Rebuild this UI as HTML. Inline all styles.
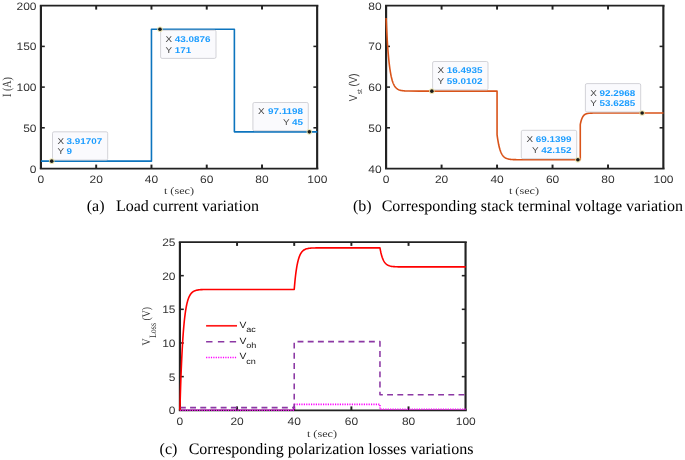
<!DOCTYPE html>
<html><head><meta charset="utf-8"><title>Figure</title>
<style>html,body{margin:0;padding:0;background:#fff;}svg{display:block;filter:blur(0.3px);}text{text-rendering:geometricPrecision;}</style></head>
<body>
<svg width="685" height="460" viewBox="0 0 685 460">
<rect width="685" height="460" fill="#fff"/>
<rect x="40.9" y="5.7" width="276.40000000000003" height="162.8" fill="#fff"/>
<line x1="39.82" y1="5.7" x2="318.38" y2="5.7" stroke="#222222" stroke-width="1.75"/>
<line x1="39.82" y1="168.5" x2="318.38" y2="168.5" stroke="#222222" stroke-width="1.75"/>
<line x1="40.9" y1="5.7" x2="40.9" y2="168.5" stroke="#222222" stroke-width="2.15"/>
<line x1="317.15000000000003" y1="5.7" x2="317.15000000000003" y2="168.5" stroke="#222222" stroke-width="2.15"/>
<text transform="translate(40.90,182.90) scale(1.11,1)" font-family='"Liberation Sans", sans-serif' font-size="10.8" text-anchor="middle" fill="#333333" font-weight="normal" >0</text>
<line x1="96.18" y1="168.5" x2="96.18" y2="164.6" stroke="#222222" stroke-width="1.95"/>
<line x1="96.18" y1="5.7" x2="96.18" y2="9.6" stroke="#222222" stroke-width="1.95"/>
<text transform="translate(96.18,182.90) scale(1.11,1)" font-family='"Liberation Sans", sans-serif' font-size="10.8" text-anchor="middle" fill="#333333" font-weight="normal" >20</text>
<line x1="151.46" y1="168.5" x2="151.46" y2="164.6" stroke="#222222" stroke-width="1.95"/>
<line x1="151.46" y1="5.7" x2="151.46" y2="9.6" stroke="#222222" stroke-width="1.95"/>
<text transform="translate(151.46,182.90) scale(1.11,1)" font-family='"Liberation Sans", sans-serif' font-size="10.8" text-anchor="middle" fill="#333333" font-weight="normal" >40</text>
<line x1="206.74" y1="168.5" x2="206.74" y2="164.6" stroke="#222222" stroke-width="1.95"/>
<line x1="206.74" y1="5.7" x2="206.74" y2="9.6" stroke="#222222" stroke-width="1.95"/>
<text transform="translate(206.74,182.90) scale(1.11,1)" font-family='"Liberation Sans", sans-serif' font-size="10.8" text-anchor="middle" fill="#333333" font-weight="normal" >60</text>
<line x1="262.02" y1="168.5" x2="262.02" y2="164.6" stroke="#222222" stroke-width="1.95"/>
<line x1="262.02" y1="5.7" x2="262.02" y2="9.6" stroke="#222222" stroke-width="1.95"/>
<text transform="translate(262.02,182.90) scale(1.11,1)" font-family='"Liberation Sans", sans-serif' font-size="10.8" text-anchor="middle" fill="#333333" font-weight="normal" >80</text>
<text transform="translate(317.30,182.90) scale(1.11,1)" font-family='"Liberation Sans", sans-serif' font-size="10.8" text-anchor="middle" fill="#333333" font-weight="normal" >100</text>
<text transform="translate(36.50,172.50) scale(1.11,1)" font-family='"Liberation Sans", sans-serif' font-size="10.8" text-anchor="end" fill="#333333" font-weight="normal" >0</text>
<line x1="40.9" y1="127.80" x2="44.8" y2="127.80" stroke="#222222" stroke-width="1.55"/>
<line x1="317.3" y1="127.80" x2="313.40000000000003" y2="127.80" stroke="#222222" stroke-width="1.55"/>
<text transform="translate(36.50,131.80) scale(1.11,1)" font-family='"Liberation Sans", sans-serif' font-size="10.8" text-anchor="end" fill="#333333" font-weight="normal" >50</text>
<line x1="40.9" y1="87.10" x2="44.8" y2="87.10" stroke="#222222" stroke-width="1.55"/>
<line x1="317.3" y1="87.10" x2="313.40000000000003" y2="87.10" stroke="#222222" stroke-width="1.55"/>
<text transform="translate(36.50,91.10) scale(1.11,1)" font-family='"Liberation Sans", sans-serif' font-size="10.8" text-anchor="end" fill="#333333" font-weight="normal" >100</text>
<line x1="40.9" y1="46.40" x2="44.8" y2="46.40" stroke="#222222" stroke-width="1.55"/>
<line x1="317.3" y1="46.40" x2="313.40000000000003" y2="46.40" stroke="#222222" stroke-width="1.55"/>
<text transform="translate(36.50,50.40) scale(1.11,1)" font-family='"Liberation Sans", sans-serif' font-size="10.8" text-anchor="end" fill="#333333" font-weight="normal" >150</text>
<text transform="translate(36.50,9.70) scale(1.11,1)" font-family='"Liberation Sans", sans-serif' font-size="10.8" text-anchor="end" fill="#333333" font-weight="normal" >200</text>
<polyline points="40.90,161.17 151.46,161.17 151.46,29.31 234.38,29.31 234.38,131.87 317.30,131.87" fill="none" stroke="#0c74be" stroke-width="1.6" stroke-linejoin="round" />
<rect x="52.5" y="131.8" width="55.2" height="28.3" rx="1.5" fill="#fafafd" stroke="#c8c8ce" stroke-width="0.8"/>
<text transform="translate(57.40,143.75) scale(1.18,1)" font-family='"Liberation Sans", sans-serif' font-size="8.4" text-anchor="start" fill="#404040" font-weight="normal" >X</text>
<text transform="translate(66.60,143.75) scale(1.18,1)" font-family='"Liberation Sans", sans-serif' font-size="8.4" text-anchor="start" fill="#1a9cff" font-weight="bold" >3.91707</text>
<text transform="translate(57.40,154.30) scale(1.18,1)" font-family='"Liberation Sans", sans-serif' font-size="8.4" text-anchor="start" fill="#404040" font-weight="normal" >Y</text>
<text transform="translate(66.60,154.30) scale(1.18,1)" font-family='"Liberation Sans", sans-serif' font-size="8.4" text-anchor="start" fill="#1a9cff" font-weight="bold" >9</text>
<circle cx="51.73" cy="161.17" r="2.8" fill="#e8e0a0" opacity="0.8"/>
<circle cx="51.73" cy="161.17" r="1.8" fill="#1a1a1a"/>
<rect x="160.6" y="30.2" width="55.4" height="28.2" rx="1.5" fill="#fafafd" stroke="#c8c8ce" stroke-width="0.8"/>
<text transform="translate(165.50,42.15) scale(1.18,1)" font-family='"Liberation Sans", sans-serif' font-size="8.4" text-anchor="start" fill="#404040" font-weight="normal" >X</text>
<text transform="translate(174.70,42.15) scale(1.18,1)" font-family='"Liberation Sans", sans-serif' font-size="8.4" text-anchor="start" fill="#1a9cff" font-weight="bold" >43.0876</text>
<text transform="translate(165.50,52.70) scale(1.18,1)" font-family='"Liberation Sans", sans-serif' font-size="8.4" text-anchor="start" fill="#404040" font-weight="normal" >Y</text>
<text transform="translate(174.70,52.70) scale(1.18,1)" font-family='"Liberation Sans", sans-serif' font-size="8.4" text-anchor="start" fill="#1a9cff" font-weight="bold" >171</text>
<circle cx="159.99" cy="29.31" r="2.8" fill="#e8e0a0" opacity="0.8"/>
<circle cx="159.99" cy="29.31" r="1.8" fill="#1a1a1a"/>
<rect x="252.9" y="102.5" width="55.4" height="28.3" rx="1.5" fill="#fafafd" stroke="#c8c8ce" stroke-width="0.8"/>
<text transform="translate(303.10,114.45) scale(1.18,1)" font-family='"Liberation Sans", sans-serif' font-size="8.4" text-anchor="end" fill="#1a9cff" font-weight="bold" >97.1198</text>
<text transform="translate(258.08,114.45) scale(1.18,1)" font-family='"Liberation Sans", sans-serif' font-size="8.4" text-anchor="start" fill="#404040" font-weight="normal" >X</text>
<text transform="translate(303.10,125.00) scale(1.18,1)" font-family='"Liberation Sans", sans-serif' font-size="8.4" text-anchor="end" fill="#1a9cff" font-weight="bold" >45</text>
<text transform="translate(282.88,125.00) scale(1.18,1)" font-family='"Liberation Sans", sans-serif' font-size="8.4" text-anchor="start" fill="#404040" font-weight="normal" >Y</text>
<circle cx="309.34" cy="131.87" r="2.8" fill="#e8e0a0" opacity="0.8"/>
<circle cx="309.34" cy="131.87" r="1.8" fill="#1a1a1a"/>
<text transform="translate(179.00,194.20) scale(1.22,1)" font-family='"Liberation Serif", serif' font-size="10" text-anchor="middle" fill="#333333" font-weight="normal" >t (sec)</text>
<text transform="translate(10.9,96.9) rotate(-90) scale(1,1.25)" font-family='"Liberation Serif", serif' font-size="10" text-anchor="start" fill="#404040">I (A)</text>
<text transform="translate(86.70,210.90)" font-family='"Liberation Serif", serif' font-size="16" text-anchor="start" fill="#000" font-weight="normal" >(a)</text>
<text transform="translate(115.90,210.90)" font-family='"Liberation Serif", serif' font-size="16" text-anchor="start" fill="#000" font-weight="normal" >Load current variation</text>
<rect x="386.1" y="5.7" width="277.4" height="162.8" fill="#fff"/>
<line x1="385.03" y1="5.7" x2="664.58" y2="5.7" stroke="#222222" stroke-width="1.75"/>
<line x1="385.03" y1="168.5" x2="664.58" y2="168.5" stroke="#222222" stroke-width="1.75"/>
<line x1="386.1" y1="5.7" x2="386.1" y2="168.5" stroke="#222222" stroke-width="2.15"/>
<line x1="663.35" y1="5.7" x2="663.35" y2="168.5" stroke="#222222" stroke-width="2.15"/>
<text transform="translate(386.10,182.90) scale(1.11,1)" font-family='"Liberation Sans", sans-serif' font-size="10.8" text-anchor="middle" fill="#333333" font-weight="normal" >0</text>
<line x1="441.58" y1="168.5" x2="441.58" y2="164.6" stroke="#222222" stroke-width="1.95"/>
<line x1="441.58" y1="5.7" x2="441.58" y2="9.6" stroke="#222222" stroke-width="1.95"/>
<text transform="translate(441.58,182.90) scale(1.11,1)" font-family='"Liberation Sans", sans-serif' font-size="10.8" text-anchor="middle" fill="#333333" font-weight="normal" >20</text>
<line x1="497.06" y1="168.5" x2="497.06" y2="164.6" stroke="#222222" stroke-width="1.95"/>
<line x1="497.06" y1="5.7" x2="497.06" y2="9.6" stroke="#222222" stroke-width="1.95"/>
<text transform="translate(497.06,182.90) scale(1.11,1)" font-family='"Liberation Sans", sans-serif' font-size="10.8" text-anchor="middle" fill="#333333" font-weight="normal" >40</text>
<line x1="552.54" y1="168.5" x2="552.54" y2="164.6" stroke="#222222" stroke-width="1.95"/>
<line x1="552.54" y1="5.7" x2="552.54" y2="9.6" stroke="#222222" stroke-width="1.95"/>
<text transform="translate(552.54,182.90) scale(1.11,1)" font-family='"Liberation Sans", sans-serif' font-size="10.8" text-anchor="middle" fill="#333333" font-weight="normal" >60</text>
<line x1="608.02" y1="168.5" x2="608.02" y2="164.6" stroke="#222222" stroke-width="1.95"/>
<line x1="608.02" y1="5.7" x2="608.02" y2="9.6" stroke="#222222" stroke-width="1.95"/>
<text transform="translate(608.02,182.90) scale(1.11,1)" font-family='"Liberation Sans", sans-serif' font-size="10.8" text-anchor="middle" fill="#333333" font-weight="normal" >80</text>
<text transform="translate(663.50,182.90) scale(1.11,1)" font-family='"Liberation Sans", sans-serif' font-size="10.8" text-anchor="middle" fill="#333333" font-weight="normal" >100</text>
<text transform="translate(381.70,172.50) scale(1.11,1)" font-family='"Liberation Sans", sans-serif' font-size="10.8" text-anchor="end" fill="#333333" font-weight="normal" >40</text>
<line x1="386.1" y1="127.80" x2="390.0" y2="127.80" stroke="#222222" stroke-width="1.55"/>
<line x1="663.5" y1="127.80" x2="659.6" y2="127.80" stroke="#222222" stroke-width="1.55"/>
<text transform="translate(381.70,131.80) scale(1.11,1)" font-family='"Liberation Sans", sans-serif' font-size="10.8" text-anchor="end" fill="#333333" font-weight="normal" >50</text>
<line x1="386.1" y1="87.10" x2="390.0" y2="87.10" stroke="#222222" stroke-width="1.55"/>
<line x1="663.5" y1="87.10" x2="659.6" y2="87.10" stroke="#222222" stroke-width="1.55"/>
<text transform="translate(381.70,91.10) scale(1.11,1)" font-family='"Liberation Sans", sans-serif' font-size="10.8" text-anchor="end" fill="#333333" font-weight="normal" >60</text>
<line x1="386.1" y1="46.40" x2="390.0" y2="46.40" stroke="#222222" stroke-width="1.55"/>
<line x1="663.5" y1="46.40" x2="659.6" y2="46.40" stroke="#222222" stroke-width="1.55"/>
<text transform="translate(381.70,50.40) scale(1.11,1)" font-family='"Liberation Sans", sans-serif' font-size="10.8" text-anchor="end" fill="#333333" font-weight="normal" >70</text>
<text transform="translate(381.70,9.70) scale(1.11,1)" font-family='"Liberation Sans", sans-serif' font-size="10.8" text-anchor="end" fill="#333333" font-weight="normal" >80</text>
<polyline points="386.10,18.07 386.32,22.98 386.54,27.56 386.77,31.83 386.99,35.82 387.21,39.53 387.43,43.00 387.65,46.24 387.88,49.25 388.10,52.07 388.32,54.69 388.54,57.14 388.76,59.42 388.98,61.55 389.21,63.54 389.43,65.40 389.65,67.13 389.87,68.74 390.09,70.24 390.32,71.65 390.54,72.96 390.76,74.18 390.98,75.32 391.20,76.38 391.43,77.37 391.65,78.29 391.87,79.16 392.09,79.96 392.31,80.71 392.54,81.41 392.76,82.06 392.98,82.67 393.20,83.24 393.42,83.77 393.65,84.27 393.87,84.73 394.09,85.16 394.31,85.56 394.53,85.93 395.23,86.95 395.92,87.77 396.61,88.42 397.31,88.95 398.00,89.38 398.69,89.72 399.39,89.99 400.08,90.22 400.77,90.39 401.47,90.54 402.16,90.65 402.85,90.75 403.55,90.82 404.24,90.88 404.94,90.93 405.63,90.97 406.32,91.00 407.02,91.02 407.71,91.04 408.40,91.06 419.50,91.13 430.59,91.13 441.69,91.13 452.79,91.13 463.88,91.13 474.98,91.13 486.07,91.13 497.06,91.13 497.06,134.59 497.28,136.28 497.50,137.86 497.73,139.33 497.95,140.70 498.17,141.98 498.39,143.17 498.61,144.29 498.84,145.32 499.06,146.29 499.28,147.20 499.50,148.04 499.72,148.83 499.94,149.56 500.17,150.24 500.39,150.88 500.61,151.48 500.83,152.03 501.05,152.55 501.28,153.03 501.50,153.48 501.72,153.91 501.94,154.30 502.16,154.66 502.39,155.00 502.61,155.32 502.83,155.62 503.05,155.90 503.27,156.16 503.50,156.40 503.72,156.62 503.94,156.83 504.16,157.03 504.38,157.21 504.61,157.38 504.83,157.54 505.05,157.69 505.27,157.82 505.49,157.95 506.19,158.30 506.88,158.58 507.57,158.81 508.27,158.99 508.96,159.14 509.65,159.26 510.35,159.35 511.04,159.43 511.73,159.49 512.43,159.54 513.12,159.58 513.81,159.61 514.51,159.64 515.20,159.66 515.90,159.67 516.59,159.69 517.28,159.70 517.98,159.71 518.67,159.71 519.36,159.72 530.46,159.74 541.55,159.74 552.65,159.74 563.75,159.74 574.84,159.74 580.28,159.74 580.28,124.55 580.50,123.45 580.72,122.46 580.95,121.56 581.17,120.75 581.39,120.02 581.61,119.35 581.83,118.75 582.06,118.21 582.28,117.71 582.50,117.27 582.72,116.87 582.94,116.50 583.16,116.17 583.39,115.87 583.61,115.60 583.83,115.36 584.05,115.14 584.27,114.94 584.50,114.75 584.72,114.59 584.94,114.44 585.16,114.31 585.38,114.19 585.61,114.08 585.83,113.98 586.05,113.89 586.27,113.81 586.49,113.73 586.72,113.67 586.94,113.61 587.16,113.55 587.38,113.50 587.60,113.46 587.83,113.42 588.05,113.38 588.27,113.35 588.49,113.32 588.71,113.29 589.41,113.22 590.10,113.17 590.79,113.13 591.49,113.11 592.18,113.09 592.87,113.07 593.57,113.06 594.26,113.05 594.95,113.05 595.65,113.04 596.34,113.04 597.03,113.04 597.73,113.04 598.42,113.04 599.12,113.03 599.81,113.03 600.50,113.03 601.20,113.03 601.89,113.03 602.58,113.03 613.68,113.03 624.77,113.03 635.87,113.03 646.97,113.03 658.06,113.03 663.50,113.03 663.50,113.03" fill="none" stroke="#d95319" stroke-width="1.6" stroke-linejoin="round" />
<rect x="432.6" y="61.5" width="55.4" height="28.4" rx="1.5" fill="#fafafd" stroke="#c8c8ce" stroke-width="0.8"/>
<text transform="translate(437.50,73.45) scale(1.18,1)" font-family='"Liberation Sans", sans-serif' font-size="8.4" text-anchor="start" fill="#404040" font-weight="normal" >X</text>
<text transform="translate(446.70,73.45) scale(1.18,1)" font-family='"Liberation Sans", sans-serif' font-size="8.4" text-anchor="start" fill="#1a9cff" font-weight="bold" >16.4935</text>
<text transform="translate(437.50,84.00) scale(1.18,1)" font-family='"Liberation Sans", sans-serif' font-size="8.4" text-anchor="start" fill="#404040" font-weight="normal" >Y</text>
<text transform="translate(446.70,84.00) scale(1.18,1)" font-family='"Liberation Sans", sans-serif' font-size="8.4" text-anchor="start" fill="#1a9cff" font-weight="bold" >59.0102</text>
<circle cx="431.85" cy="91.13" r="2.8" fill="#e8e0a0" opacity="0.8"/>
<circle cx="431.85" cy="91.13" r="1.8" fill="#1a1a1a"/>
<rect x="521.3" y="130.3" width="55.4" height="28.4" rx="1.5" fill="#fafafd" stroke="#c8c8ce" stroke-width="0.8"/>
<text transform="translate(571.50,142.25) scale(1.18,1)" font-family='"Liberation Sans", sans-serif' font-size="8.4" text-anchor="end" fill="#1a9cff" font-weight="bold" >69.1399</text>
<text transform="translate(526.48,142.25) scale(1.18,1)" font-family='"Liberation Sans", sans-serif' font-size="8.4" text-anchor="start" fill="#404040" font-weight="normal" >X</text>
<text transform="translate(571.50,152.80) scale(1.18,1)" font-family='"Liberation Sans", sans-serif' font-size="8.4" text-anchor="end" fill="#1a9cff" font-weight="bold" >42.152</text>
<text transform="translate(531.99,152.80) scale(1.18,1)" font-family='"Liberation Sans", sans-serif' font-size="8.4" text-anchor="start" fill="#404040" font-weight="normal" >Y</text>
<circle cx="577.89" cy="159.74" r="2.8" fill="#e8e0a0" opacity="0.8"/>
<circle cx="577.89" cy="159.74" r="1.8" fill="#1a1a1a"/>
<rect x="585.4" y="83.6" width="55.3" height="28.4" rx="1.5" fill="#fafafd" stroke="#c8c8ce" stroke-width="0.8"/>
<text transform="translate(590.30,95.55) scale(1.18,1)" font-family='"Liberation Sans", sans-serif' font-size="8.4" text-anchor="start" fill="#404040" font-weight="normal" >X</text>
<text transform="translate(599.50,95.55) scale(1.18,1)" font-family='"Liberation Sans", sans-serif' font-size="8.4" text-anchor="start" fill="#1a9cff" font-weight="bold" >92.2968</text>
<text transform="translate(590.30,106.10) scale(1.18,1)" font-family='"Liberation Sans", sans-serif' font-size="8.4" text-anchor="start" fill="#404040" font-weight="normal" >Y</text>
<text transform="translate(599.50,106.10) scale(1.18,1)" font-family='"Liberation Sans", sans-serif' font-size="8.4" text-anchor="start" fill="#1a9cff" font-weight="bold" >53.6285</text>
<circle cx="642.13" cy="113.03" r="2.8" fill="#e8e0a0" opacity="0.8"/>
<circle cx="642.13" cy="113.03" r="1.8" fill="#1a1a1a"/>
<text transform="translate(524.00,194.20) scale(1.22,1)" font-family='"Liberation Serif", serif' font-size="10" text-anchor="middle" fill="#333333" font-weight="normal" >t (sec)</text>
<text transform="translate(357.4,101.3) rotate(-90) scale(1,1.17)" font-family='"Liberation Sans", sans-serif' font-size="9.75" text-anchor="start" fill="#404040">V<tspan font-size="6.5" dy="3.9" dx="0.6">st</tspan><tspan dy="-3.9"> (V)</tspan></text>
<text transform="translate(353.00,210.90)" font-family='"Liberation Serif", serif' font-size="16" text-anchor="start" fill="#000" font-weight="normal" >(b)</text>
<text transform="translate(381.70,210.90)" font-family='"Liberation Serif", serif' font-size="16" text-anchor="start" fill="#000" font-weight="normal" >Corresponding stack terminal voltage variation</text>
<rect x="179.9" y="242.0" width="285.79999999999995" height="168.3" fill="#fff"/>
<line x1="178.83" y1="242.0" x2="466.77" y2="242.0" stroke="#222222" stroke-width="1.75"/>
<line x1="178.83" y1="410.3" x2="466.77" y2="410.3" stroke="#222222" stroke-width="1.75"/>
<line x1="179.9" y1="242.0" x2="179.9" y2="410.3" stroke="#222222" stroke-width="2.15"/>
<line x1="465.55" y1="242.0" x2="465.55" y2="410.3" stroke="#222222" stroke-width="2.15"/>
<text transform="translate(179.90,424.70) scale(1.11,1)" font-family='"Liberation Sans", sans-serif' font-size="10.8" text-anchor="middle" fill="#333333" font-weight="normal" >0</text>
<line x1="237.06" y1="410.3" x2="237.06" y2="406.40000000000003" stroke="#222222" stroke-width="1.95"/>
<line x1="237.06" y1="242.0" x2="237.06" y2="245.9" stroke="#222222" stroke-width="1.95"/>
<text transform="translate(237.06,424.70) scale(1.11,1)" font-family='"Liberation Sans", sans-serif' font-size="10.8" text-anchor="middle" fill="#333333" font-weight="normal" >20</text>
<line x1="294.22" y1="410.3" x2="294.22" y2="406.40000000000003" stroke="#222222" stroke-width="1.95"/>
<line x1="294.22" y1="242.0" x2="294.22" y2="245.9" stroke="#222222" stroke-width="1.95"/>
<text transform="translate(294.22,424.70) scale(1.11,1)" font-family='"Liberation Sans", sans-serif' font-size="10.8" text-anchor="middle" fill="#333333" font-weight="normal" >40</text>
<line x1="351.38" y1="410.3" x2="351.38" y2="406.40000000000003" stroke="#222222" stroke-width="1.95"/>
<line x1="351.38" y1="242.0" x2="351.38" y2="245.9" stroke="#222222" stroke-width="1.95"/>
<text transform="translate(351.38,424.70) scale(1.11,1)" font-family='"Liberation Sans", sans-serif' font-size="10.8" text-anchor="middle" fill="#333333" font-weight="normal" >60</text>
<line x1="408.54" y1="410.3" x2="408.54" y2="406.40000000000003" stroke="#222222" stroke-width="1.95"/>
<line x1="408.54" y1="242.0" x2="408.54" y2="245.9" stroke="#222222" stroke-width="1.95"/>
<text transform="translate(408.54,424.70) scale(1.11,1)" font-family='"Liberation Sans", sans-serif' font-size="10.8" text-anchor="middle" fill="#333333" font-weight="normal" >80</text>
<text transform="translate(465.70,424.70) scale(1.11,1)" font-family='"Liberation Sans", sans-serif' font-size="10.8" text-anchor="middle" fill="#333333" font-weight="normal" >100</text>
<text transform="translate(175.50,414.30) scale(1.11,1)" font-family='"Liberation Sans", sans-serif' font-size="10.8" text-anchor="end" fill="#333333" font-weight="normal" >0</text>
<line x1="179.9" y1="376.64" x2="183.8" y2="376.64" stroke="#222222" stroke-width="1.55"/>
<line x1="465.7" y1="376.64" x2="461.8" y2="376.64" stroke="#222222" stroke-width="1.55"/>
<text transform="translate(175.50,380.64) scale(1.11,1)" font-family='"Liberation Sans", sans-serif' font-size="10.8" text-anchor="end" fill="#333333" font-weight="normal" >5</text>
<line x1="179.9" y1="342.98" x2="183.8" y2="342.98" stroke="#222222" stroke-width="1.55"/>
<line x1="465.7" y1="342.98" x2="461.8" y2="342.98" stroke="#222222" stroke-width="1.55"/>
<text transform="translate(175.50,346.98) scale(1.11,1)" font-family='"Liberation Sans", sans-serif' font-size="10.8" text-anchor="end" fill="#333333" font-weight="normal" >10</text>
<line x1="179.9" y1="309.32" x2="183.8" y2="309.32" stroke="#222222" stroke-width="1.55"/>
<line x1="465.7" y1="309.32" x2="461.8" y2="309.32" stroke="#222222" stroke-width="1.55"/>
<text transform="translate(175.50,313.32) scale(1.11,1)" font-family='"Liberation Sans", sans-serif' font-size="10.8" text-anchor="end" fill="#333333" font-weight="normal" >15</text>
<line x1="179.9" y1="275.66" x2="183.8" y2="275.66" stroke="#222222" stroke-width="1.55"/>
<line x1="465.7" y1="275.66" x2="461.8" y2="275.66" stroke="#222222" stroke-width="1.55"/>
<text transform="translate(175.50,279.66) scale(1.11,1)" font-family='"Liberation Sans", sans-serif' font-size="10.8" text-anchor="end" fill="#333333" font-weight="normal" >20</text>
<text transform="translate(175.50,246.00) scale(1.11,1)" font-family='"Liberation Sans", sans-serif' font-size="10.8" text-anchor="end" fill="#333333" font-weight="normal" >25</text>
<polyline points="179.90,410.10 294.22,410.10 294.22,404.38 379.96,404.38 379.96,409.29 465.70,409.29" fill="none" stroke="#ff00ff" stroke-width="1.6" stroke-linejoin="round" stroke-dasharray="1.2,1.2" />
<polyline points="179.90,407.61 294.22,407.61 294.22,341.63 379.96,341.63 379.96,394.82 465.70,394.82" fill="none" stroke="#8c38a4" stroke-width="1.55" stroke-linejoin="round" stroke-dasharray="5.9,4.3" />
<polyline points="179.90,410.30 180.13,402.18 180.36,394.60 180.59,387.54 180.81,380.95 181.04,374.80 181.27,369.07 181.50,363.72 181.73,358.73 181.96,354.07 182.19,349.73 182.42,345.68 182.64,341.90 182.87,338.38 183.10,335.09 183.33,332.02 183.56,329.16 183.79,326.50 184.02,324.01 184.24,321.68 184.47,319.52 184.70,317.50 184.93,315.62 185.16,313.86 185.39,312.22 185.62,310.69 185.84,309.26 186.07,307.93 186.30,306.69 186.53,305.53 186.76,304.45 186.99,303.44 187.22,302.51 187.45,301.63 187.67,300.81 187.90,300.05 188.13,299.34 188.36,298.67 188.59,298.05 189.30,296.37 190.02,295.02 190.73,293.94 191.45,293.06 192.16,292.36 192.88,291.79 193.59,291.34 194.30,290.97 195.02,290.68 195.73,290.44 196.45,290.25 197.16,290.09 197.88,289.97 198.59,289.87 199.31,289.79 200.02,289.73 200.73,289.67 201.45,289.63 202.16,289.60 202.88,289.57 214.31,289.46 225.74,289.46 237.17,289.46 248.61,289.46 260.04,289.46 271.47,289.46 282.90,289.46 294.22,289.46 294.22,289.46 294.45,286.66 294.68,284.06 294.91,281.62 295.13,279.36 295.36,277.24 295.59,275.26 295.82,273.42 296.05,271.70 296.28,270.10 296.51,268.61 296.74,267.21 296.96,265.91 297.19,264.70 297.42,263.57 297.65,262.51 297.88,261.53 298.11,260.61 298.34,259.75 298.56,258.95 298.79,258.21 299.02,257.51 299.25,256.86 299.48,256.26 299.71,255.69 299.94,255.17 300.16,254.67 300.39,254.22 300.62,253.79 300.85,253.39 301.08,253.02 301.31,252.67 301.54,252.35 301.77,252.05 301.99,251.76 302.22,251.50 302.45,251.26 302.68,251.03 302.91,250.82 303.62,250.24 304.34,249.77 305.05,249.40 305.77,249.10 306.48,248.85 307.20,248.66 307.91,248.50 308.62,248.38 309.34,248.28 310.05,248.19 310.77,248.13 311.48,248.07 312.20,248.03 312.91,248.00 313.63,247.97 314.34,247.95 315.05,247.93 315.77,247.92 316.48,247.90 317.20,247.90 328.63,247.86 340.06,247.86 351.49,247.86 362.93,247.86 374.36,247.86 379.96,247.86 379.96,247.86 380.19,249.14 380.42,250.33 380.65,251.45 380.87,252.48 381.10,253.45 381.33,254.36 381.56,255.20 381.79,255.99 382.02,256.72 382.25,257.41 382.48,258.04 382.70,258.64 382.93,259.20 383.16,259.71 383.39,260.20 383.62,260.65 383.85,261.07 384.08,261.46 384.30,261.83 384.53,262.17 384.76,262.49 384.99,262.78 385.22,263.06 385.45,263.32 385.68,263.56 385.90,263.79 386.13,264.00 386.36,264.19 386.59,264.37 386.82,264.54 387.05,264.70 387.28,264.85 387.51,264.99 387.73,265.12 387.96,265.24 388.19,265.35 388.42,265.46 388.65,265.55 389.36,265.82 390.08,266.03 390.79,266.20 391.51,266.34 392.22,266.45 392.94,266.54 393.65,266.61 394.36,266.67 395.08,266.72 395.79,266.75 396.51,266.78 397.22,266.81 397.94,266.83 398.65,266.84 399.37,266.86 400.08,266.87 400.79,266.87 401.51,266.88 402.22,266.89 402.94,266.89 414.37,266.91 425.80,266.91 437.23,266.91 448.67,266.91 460.10,266.91 465.70,266.91 465.70,266.91" fill="none" stroke="#ff0000" stroke-width="1.6" stroke-linejoin="round" />
<polyline points="206.10,325.80 237.00,325.80" fill="none" stroke="#ff1a1a" stroke-width="1.7" stroke-linejoin="round" />
<polyline points="206.10,341.80 237.00,341.80" fill="none" stroke="#8c38a4" stroke-width="1.6" stroke-linejoin="round" stroke-dasharray="6.4,5.4" />
<polyline points="206.10,357.40 237.00,357.40" fill="none" stroke="#ff00ff" stroke-width="1.5" stroke-linejoin="round" stroke-dasharray="1.2,1.2" />
<text transform="translate(239.4,327.9) scale(1.13,1)" font-family='"Liberation Sans", sans-serif' font-size="9.1" fill="#111">V<tspan font-size="8" dy="4.4">ac</tspan></text>
<text transform="translate(239.4,343.6) scale(1.13,1)" font-family='"Liberation Sans", sans-serif' font-size="9.1" fill="#111">V<tspan font-size="8" dy="4.4">oh</tspan></text>
<text transform="translate(239.4,359.1) scale(1.13,1)" font-family='"Liberation Sans", sans-serif' font-size="9.1" fill="#111">V<tspan font-size="8" dy="4.4">cn</tspan></text>
<text transform="translate(322.00,436.50) scale(1.22,1)" font-family='"Liberation Serif", serif' font-size="10" text-anchor="middle" fill="#333333" font-weight="normal" >t (sec)</text>
<text transform="translate(150,345.5) rotate(-90) scale(1,1.2)" font-family='"Liberation Serif", serif' font-size="9.7" text-anchor="start" fill="#303030">V<tspan font-size="8" dy="5.4" dx="0.4">Loss</tspan><tspan dy="-5.4"> (V)</tspan></text>
<text transform="translate(159.60,454.00)" font-family='"Liberation Serif", serif' font-size="16" text-anchor="start" fill="#000" font-weight="normal" >(c)</text>
<text transform="translate(188.70,454.00)" font-family='"Liberation Serif", serif' font-size="16" text-anchor="start" fill="#000" font-weight="normal" >Corresponding polarization losses variations</text>
</svg>
</body></html>
